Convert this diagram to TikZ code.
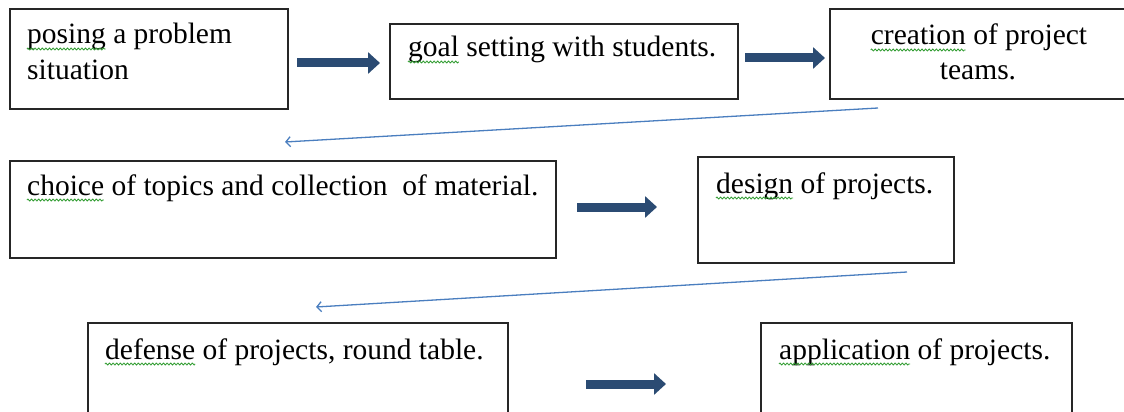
\documentclass[tikz,border=0pt]{standalone}
\usepackage{fontspec}
\setmainfont{Liberation Serif}
\usetikzlibrary{arrows.meta,calc,decorations.pathmorphing}

\definecolor{framegray}{HTML}{262626}
\definecolor{navyarrow}{HTML}{2B4B73}
\definecolor{linkblue}{HTML}{4A7EBF}
\definecolor{spellgreen}{HTML}{2E9B2E}

\newcommand\boxfont{\rmfamily\fontsize{29.5}{35}\selectfont}

% widths of the words that carry a spelling mark
\newlength\wPosing \newlength\wGoal \newlength\wCreation \newlength\wChoice
\newlength\wDesign \newlength\wDefense \newlength\wApplication
\AtBeginDocument{%
  \settowidth{\wPosing}{\boxfont posing}%
  \settowidth{\wGoal}{\boxfont goal}%
  \settowidth{\wCreation}{\boxfont creation}%
  \settowidth{\wChoice}{\boxfont choice}%
  \settowidth{\wDesign}{\boxfont design}%
  \settowidth{\wDefense}{\boxfont defense}%
  \settowidth{\wApplication}{\boxfont application}}

% green wavy spelling mark under the first word of a text line
\newcommand\squig[2]{%
  \draw[squiggle] ([yshift=-5pt]#1.base west) -- ++(#2,0pt);}

\begin{document}
\begin{tikzpicture}[x=1pt,y=-1pt,
  stage/.style={draw=framegray, line width=1.6pt, fill=white, anchor=north west,
    inner sep=0pt},
  txt/.style={font=\boxfont, inner sep=0pt, anchor=base west, text=black},
  ctxt/.style={font=\boxfont, inner sep=0pt, anchor=base, text=black},
  bigarrow/.style={draw=navyarrow, line width=9pt,
    -{Triangle[length=12pt,width=21pt]}},
  thinarrow/.style={draw=linkblue, line width=1.3pt,
    -{Straight Barb[length=4.5pt,width=10pt]}},
  squiggle/.style={draw=spellgreen, line width=0.8pt, line join=round,
    decorate, decoration={zigzag, amplitude=1.1pt, segment length=3.6pt}}]

\clip (0,0) rectangle (1124,412);
\fill[white] (0,0) rectangle (1124,412);

% boxes
\node[stage, minimum width=278pt, minimum height=100pt] (b1) at (9,8) {};
\node[stage, minimum width=348pt, minimum height=75pt]  (b2) at (389,23) {};
\node[stage, minimum width=310pt, minimum height=90pt]  (b3) at (829,8) {};
\node[stage, minimum width=546pt, minimum height=97pt]  (b4) at (9,160) {};
\node[stage, minimum width=256pt, minimum height=106pt] (b5) at (697,156) {};
\node[stage, minimum width=420pt, minimum height=110pt] (b6) at (87,322) {};
\node[stage, minimum width=311pt, minimum height=110pt] (b7) at (760,322) {};

% texts
\node[txt] (t1)  at (27,44)  {posing a problem};
\node[txt] (t1b) at (27,80)  {situation};
\node[txt] (t2)  at (408,57) {goal setting with students.};
\node[ctxt] (t3) at (979,45) {creation of project};
\node[ctxt] (t3b) at (978,80) {teams.};
\node[txt] (t4)  at (27,195) {choice of topics and collection\ \ of material.};
\node[txt] (t5)  at (716,193) {design of projects.};
\node[txt] (t6)  at (105,359) {defense of projects, round table.};
\node[txt] (t7)  at (779,359) {application of projects.};

% spelling marks
\squig{t1}{\wPosing}
\squig{t2}{\wGoal}
\squig{t3}{\wCreation}
\squig{t4}{\wChoice}
\squig{t5}{\wDesign}
\squig{t6}{\wDefense}
\squig{t7}{\wApplication}

% block arrows between stages
\coordinate (a1s) at (297,63);  \coordinate (a1e) at (380,63);
\coordinate (a2s) at (745,58);  \coordinate (a2e) at (825,58);
\coordinate (a3s) at (577,207); \coordinate (a3e) at (657,207);
\coordinate (a4s) at (586,384); \coordinate (a4e) at (666,384);
\draw[bigarrow] (a1s) -- (a1e);
\draw[bigarrow] (a2s) -- (a2e);
\draw[bigarrow] (a3s) -- (a3e);
\draw[bigarrow] (a4s) -- (a4e);

% thin return arrows to the next row
\coordinate (r1s) at (878,108); \coordinate (r1e) at (285,142);
\coordinate (r2s) at (907,272); \coordinate (r2e) at (316,307);
\draw[thinarrow] (r1s) -- (r1e);
\draw[thinarrow] (r2s) -- (r2e);

\end{tikzpicture}
\end{document}
